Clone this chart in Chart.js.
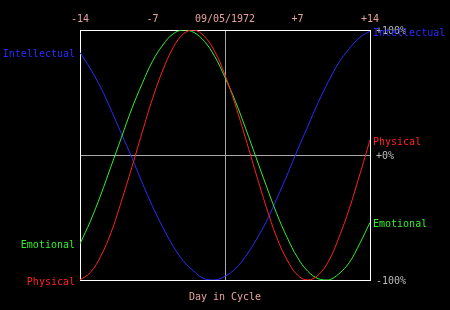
<!DOCTYPE html>
<html>
<head>
<meta charset="utf-8">
<title>Biorhythm</title>
<script src="https://cdn.jsdelivr.net/npm/chart.js@4/dist/chart.umd.min.js"></script>
<style>
  body { margin: 0; background: #000; }
  canvas { display: block; }
</style>
</head>
<body>
<canvas id="bioChart" width="450" height="310"></canvas>
<script>
"use strict"

// Dagar i cykeln, relativt datumet
const days = [-14, -13, -12, -11, -10, -9, -8, -7, -6, -5, -4, -3, -2, -1, 0,
              1, 2, 3, 4, 5, 6, 7, 8, 9, 10, 11, 12, 13, 14];

// Avlästa värden i procent
const physical = [-100, -94, -81, -62, -37, -10, 18, 45, 68, 86, 97, 100, 95, 83, 64,
                  40, 13, -15, -42, -66, -84, -96, -100, -96, -85, -66, -43, -16, 12];
const emotional = [-71, -53, -32, -9, 14, 37, 57, 75, 88, 97, 100, 98, 91, 79, 62,
                   43, 21, -2, -25, -47, -66, -82, -93, -99, -100, -95, -86, -71, -54];
const intellectual = [82, 69, 54, 36, 17, -2, -22, -41, -58, -73, -85, -93, -99, -100, -97,
                      -91, -81, -68, -53, -35, -16, 4, 23, 42, 59, 74, 85, 94, 99];

const xTicks = [-14, -7, 0, 7, 14];
const xTickLabels = ['-14', '-7', '09/05/1972', '+7', '+14'];
const yTicks = [100, 0, -100];
const yTickLabels = ['+100%', '+0%', '-100%'];
const seriesNames = ['Physical', 'Emotional', 'Intellectual'];
const seriesColors = ['#ff2222', '#33ee33', '#2a2aff'];

const FONT = '10px "DejaVu Sans Mono", monospace';

/**
 * Ritar ram, mittlinjer och alla texter med hjälp av diagrammets skalor.
 */
const framePlugin = {
    id: 'frame',
    beforeDatasetsDraw(chart) {
        const { ctx, chartArea: a, scales } = chart;
        const x0 = Math.round(scales.x.getPixelForValue(0)) + 0.5;
        const y0 = Math.round(scales.y.getPixelForValue(0)) + 0.5;
        ctx.save();
        ctx.lineWidth = 1;
        ctx.strokeStyle = '#a8a8a8';
        ctx.beginPath();
        ctx.moveTo(x0, a.top);
        ctx.lineTo(x0, a.bottom);
        ctx.moveTo(a.left, y0);
        ctx.lineTo(a.right, y0);
        ctx.stroke();
        ctx.strokeStyle = '#ffffff';
        ctx.strokeRect(a.left + 0.5, a.top + 0.5, a.right - a.left, a.bottom - a.top);
        ctx.restore();
    },
    afterDatasetsDraw(chart) {
        const { ctx, chartArea: a, scales } = chart;
        ctx.save();
        ctx.font = FONT;
        ctx.textBaseline = 'middle';

        // x-etiketter överst
        ctx.fillStyle = '#e8a0a0';
        ctx.textAlign = 'center';
        xTicks.forEach((v, i) => {
            ctx.fillText(xTickLabels[i], scales.x.getPixelForValue(v), a.top - 11);
        });
        ctx.fillText('Day in Cycle', (a.left + a.right) / 2, a.bottom + 17);

        // procent till höger
        ctx.fillStyle = '#bbbbbb';
        ctx.textAlign = 'left';
        yTicks.forEach((v, i) => {
            ctx.fillText(yTickLabels[i], a.right + 6, scales.y.getPixelForValue(v) + 1);
        });

        // serienamn vid start och slut
        const series = [physical, emotional, intellectual];
        series.forEach((s, i) => {
            ctx.fillStyle = seriesColors[i];
            ctx.textAlign = 'right';
            ctx.fillText(seriesNames[i], a.left - 5, scales.y.getPixelForValue(s[0]) + 2);
            ctx.textAlign = 'left';
            ctx.fillText(seriesNames[i], a.right + 3, scales.y.getPixelForValue(s[s.length - 1]) + 2);
        });
        ctx.restore();
    }
};

function toPoints(values) {
    return values.map((v, i) => ({ x: days[i], y: v }));
}

function createChart() {
    const ctx = document.getElementById('bioChart').getContext('2d');
    new Chart(ctx, {
        type: 'line',
        data: {
            datasets: [physical, emotional, intellectual].map((s, i) => ({
                label: seriesNames[i],
                data: toPoints(s),
                borderColor: seriesColors[i],
                borderWidth: 1,
                pointRadius: 0,
                tension: 0.4,
                fill: false
            }))
        },
        options: {
            responsive: false,
            animation: false,
            layout: { padding: { left: 80, right: 80, top: 30, bottom: 30 } },
            plugins: {
                legend: { display: false },
                tooltip: { enabled: false }
            },
            scales: {
                x: { type: 'linear', min: -14, max: 14, display: false },
                y: { type: 'linear', min: -100, max: 100, display: false }
            }
        },
        plugins: [framePlugin]
    });
}

createChart();
</script>
</body>
</html>
